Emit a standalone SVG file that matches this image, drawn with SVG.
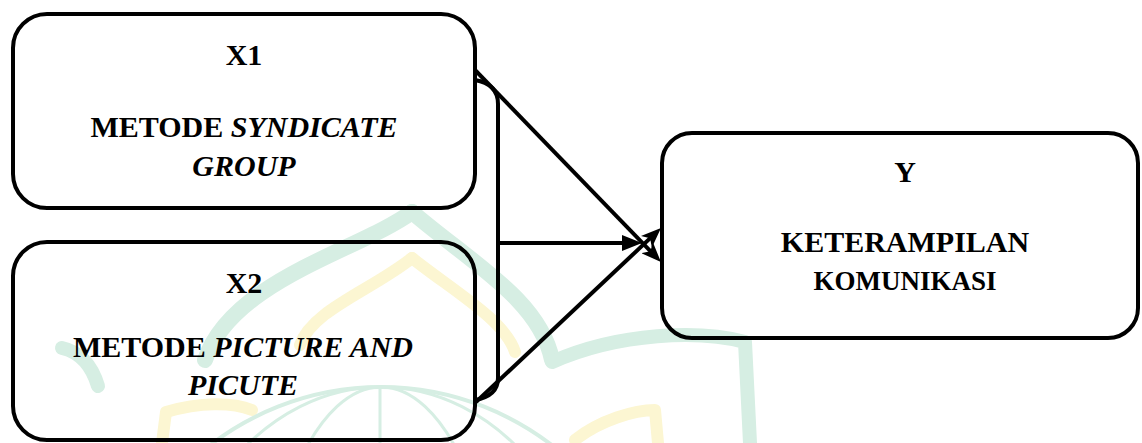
<svg xmlns="http://www.w3.org/2000/svg" width="1142" height="443" viewBox="0 0 1142 443">
  <style>
    .box { fill: none; stroke: #000; stroke-width: 4; }
    .lbl { font-family: "Liberation Serif", "Times New Roman", serif; font-weight: bold; font-size: 30px; fill: #000; text-anchor: middle; }
    .sm { font-size: 27px; }
    .it { font-style: italic; }
    .link { fill: none; stroke: #000; stroke-width: 4; }
    .wm-g { fill: none; stroke: #d6eee3; stroke-linecap: round; stroke-linejoin: round; }
    .wm-y { fill: none; stroke: #fcf6d2; stroke-linecap: round; stroke-linejoin: round; }
  </style>
  <defs>
    <marker id="head" viewBox="0 0 20 16" refX="10" refY="8" markerWidth="20" markerHeight="16" markerUnits="userSpaceOnUse" orient="auto">
      <path d="M0,0 L20,8 L0,16 z" fill="#000"/>
    </marker>
    <marker id="head-notch" viewBox="0 0 20 16" refX="10" refY="8" markerWidth="20" markerHeight="16" markerUnits="userSpaceOnUse" orient="auto">
      <path d="M0,0 L20,8 L0,16 L5,8 z" fill="#000"/>
    </marker>
  </defs>

  <rect width="1142" height="443" fill="#fff"/>

  <!-- faint emblem in the background -->
  <g id="emblem">
    <path class="wm-g" stroke-width="16" d="M412 212 C360 250 232 280 205 360"/>
    <path class="wm-g" stroke-width="16" d="M412 212 C470 262 540 300 552 360"/>
    <path class="wm-y" stroke-width="12" d="M412 258 C372 290 312 310 300 345"/>
    <path class="wm-y" stroke-width="12" d="M412 258 C452 290 505 320 515 352"/>
    <path class="wm-g" stroke-width="14" d="M62 348 C80 352 92 366 98 386"/>
    <path class="wm-g" stroke-width="14" d="M552 362 C620 332 700 330 745 342 L750 443"/>
    <path class="wm-y" stroke-width="12" d="M575 440 C600 420 635 410 655 410 L658 443"/>
    <path class="wm-y" stroke-width="12" d="M162 443 L166 412 C200 402 232 402 252 410"/>
    <circle class="wm-g" stroke-width="4" cx="381" cy="667" r="280"/>
    <ellipse class="wm-g" stroke-width="3" cx="381" cy="667" rx="120" ry="280"/>
    <ellipse class="wm-g" stroke-width="3" cx="381" cy="667" rx="220" ry="280"/>
    <line class="wm-g" stroke-width="3" x1="380" y1="387" x2="380" y2="443"/>
  </g>

  <!-- connectors -->
  <g id="connectors">
    <!-- bracket joining X1 and X2 -->
    <path class="link" d="M475 80 Q498 84 498 104 L498 378 Q498 396 475 400"/>
    <line class="link" x1="498" y1="243" x2="632" y2="243" marker-end="url(#head)"/>
    <line class="link" x1="475" y1="70" x2="654" y2="254.8" marker-end="url(#head-notch)"/>
    <line class="link" x1="476" y1="402" x2="653.7" y2="234.9" marker-end="url(#head-notch)"/>
  </g>

  <!-- X1 -->
  <g id="node-x1">
    <rect class="box" x="13" y="14" width="462" height="194" rx="34" ry="34"/>
    <text class="lbl" x="244" y="65">X1</text>
    <text class="lbl" x="244" y="137">METODE <tspan class="it">SYNDICATE</tspan></text>
    <text class="lbl it" x="244" y="176">GROUP</text>
  </g>

  <!-- X2 -->
  <g id="node-x2">
    <rect class="box" x="13" y="242" width="462" height="198" rx="34" ry="34"/>
    <text class="lbl" x="244" y="293">X2</text>
    <text class="lbl" x="243" y="357">METODE <tspan class="it">PICTURE AND</tspan></text>
    <text class="lbl it" x="243" y="395">PICUTE</text>
  </g>

  <!-- Y -->
  <g id="node-y">
    <rect class="box" x="662" y="133" width="476" height="205" rx="30" ry="30"/>
    <text class="lbl" x="905" y="182">Y</text>
    <text class="lbl" x="905" y="252">KETERAMPILAN</text>
    <text class="lbl sm" x="905" y="290">KOMUNIKASI</text>
  </g>
</svg>
